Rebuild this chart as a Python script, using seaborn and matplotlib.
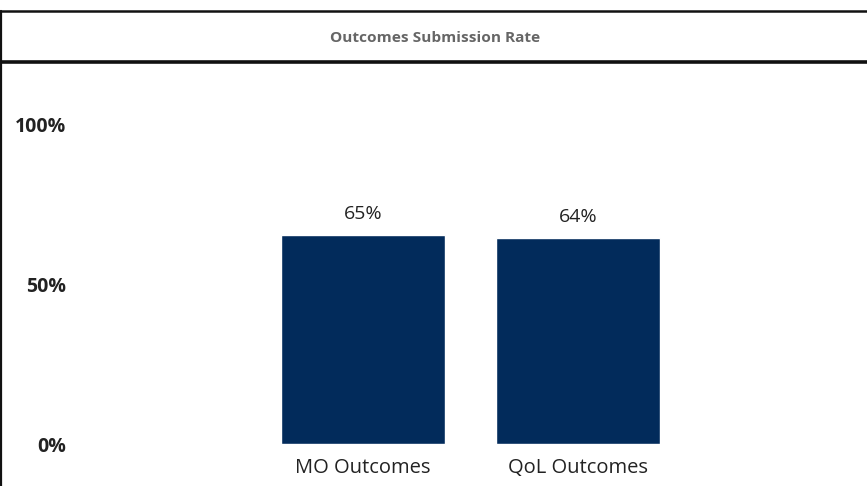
import matplotlib
matplotlib.use('Agg')
import matplotlib.pyplot as plt
from matplotlib.lines import Line2D
import seaborn as sns

categories = ['MO Outcomes', 'QoL Outcomes']
rates = [65.3, 64.3]
ytick_vals = [0, 50, 100]
ytick_labels = ['0%', '50%', '100%']
title = 'Outcomes Submission Rate'

sns.set_style('white')
plt.rcParams['font.family'] = ['Open Sans', 'DejaVu Sans']

W, H = 867, 486
fig = plt.figure(figsize=(W / 100, H / 100), dpi=100)
ax = fig.add_axes([70 / W, 42 / H, (W - 70) / W, 320 / H])

sns.barplot(x=categories, y=rates, color='#022b5b', width=0.763,
            saturation=1, ax=ax)
ax.bar_label(ax.containers[0], fmt='%.0f%%', padding=9, fontsize=14,
             color='#222222')

ax.set_ylim(0, 100)
ax.set_xlim((70 - 363) / 215, (867 - 363) / 215)
ax.set_yticks(ytick_vals)
ax.set_yticklabels(ytick_labels, fontweight='bold', fontsize=14, color='#222222')
ax.tick_params(axis='y', length=0, pad=3)
ax.tick_params(axis='x', length=0, pad=10, labelsize=14.5, labelcolor='#222222')
for s in ax.spines.values():
    s.set_visible(False)
ax.set_xlabel('')
ax.set_ylabel('')

# frame and title strip
fig.add_artist(Line2D([0, 1], [1 - 11.5 / H, 1 - 11.5 / H], color='#111111', lw=1.8))
fig.add_artist(Line2D([0, 1], [1 - 62 / H, 1 - 62 / H], color='#111111', lw=2.6))
fig.add_artist(Line2D([0.8 / W, 0.8 / W], [0, 1 - 11.5 / H], color='#111111', lw=1.6))
fig.text(435 / W, 1 - 38 / H, title, ha='center', va='center',
         fontsize=11.1, fontweight='bold', color='#666666')

fig.savefig('out.png', dpi=100)
